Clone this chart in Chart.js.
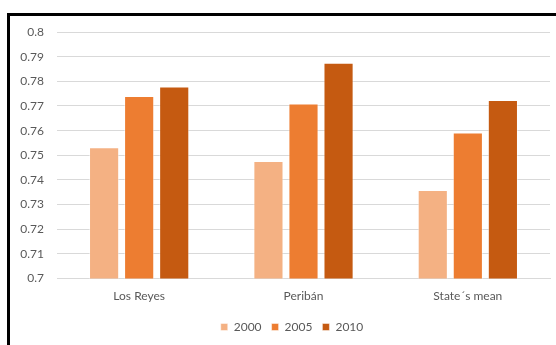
<!DOCTYPE html>
<html>
<head>
<meta charset="utf-8">
<script src="https://cdn.jsdelivr.net/npm/chart.js@4.4.1/dist/chart.umd.min.js"></script>
<style>
    html, body { margin: 0; padding: 0; background: #fff; overflow: hidden; }
    #frame {
        position: absolute; left: 7px; top: 13px; width: 620px; height: 400px;
        border-top: 3px solid #000; border-left: 3px solid #000;
    }
    #wrap { position: absolute; left: 0; top: 0; width: 556px; height: 345px; }
</style>
</head>
<body>
<div id="frame"></div>
<div id="wrap"><canvas id="myChart"></canvas></div>
<script>
const categories = ['Los Reyes', 'Peribán', 'State\u00b4s mean'];
const years = ['2000', '2005', '2010'];
const values2000 = [0.7533, 0.7477, 0.7359];
const values2005 = [0.7740, 0.7710, 0.7592];
const values2010 = [0.7779, 0.7875, 0.7724];
const yTicks = [0.7, 0.71, 0.72, 0.73, 0.74, 0.75, 0.76, 0.77, 0.78, 0.79, 0.8];
const colors = ['#F4B183', '#ED7D31', '#C55A11'];

// nudge the legend a bit right, the original centres it under the plot, not the canvas
const legendShift = {
    id: 'legendShift',
    afterLayout(chart) {
        chart.legend.left += 12;
        chart.legend.right += 12;
    }
};

function loadChart() {
    const ctx = document.getElementById('myChart');
    const series = [values2000, values2005, values2010];

    new Chart(ctx, {
        type: 'bar',
        data: {
            labels: categories,
            datasets: series.map((vals, i) => ({
                label: years[i],
                data: vals,
                backgroundColor: colors[i],
                borderColor: 'rgba(255,255,255,0.45)',
                borderWidth: 1,
                barPercentage: 0.86,
                categoryPercentage: 0.64
            }))
        },
        options: {
            responsive: true,
            maintainAspectRatio: false,
            animation: false,
            layout: {
                padding: { left: 10, right: 6, top: 32, bottom: 2 }
            },
            plugins: {
                legend: {
                    position: 'bottom',
                    labels: {
                        boxWidth: 7,
                        boxHeight: 7,
                        padding: 10,
                        color: '#595959',
                        font: { family: 'Lato', size: 12 }
                    }
                },
                tooltip: { enabled: false }
            },
            scales: {
                x: {
                    afterFit: (scale) => { scale.height += 6; },
                    grid: { display: false },
                    border: { color: '#d9d9d9', width: 1 },
                    ticks: {
                        color: '#595959',
                        padding: 2,
                        font: { family: 'Lato', size: 12 }
                    }
                },
                y: {
                    min: 0.7,
                    max: 0.8,
                    afterBuildTicks: (scale) => {
                        scale.ticks = yTicks.map(v => ({ value: v }));
                    },
                    afterFit: (scale) => { scale.width = 47; },
                    grid: { color: '#d9d9d9', lineWidth: 1, drawTicks: false },
                    border: { display: false },
                    ticks: {
                        color: '#595959',
                        padding: 13,
                        font: { family: 'Lato', size: 12 },
                        callback: (v) => Number(v.toFixed(2)).toString()
                    }
                }
            }
        },
        plugins: [legendShift]
    });
}

loadChart();
</script>
</body>
</html>
